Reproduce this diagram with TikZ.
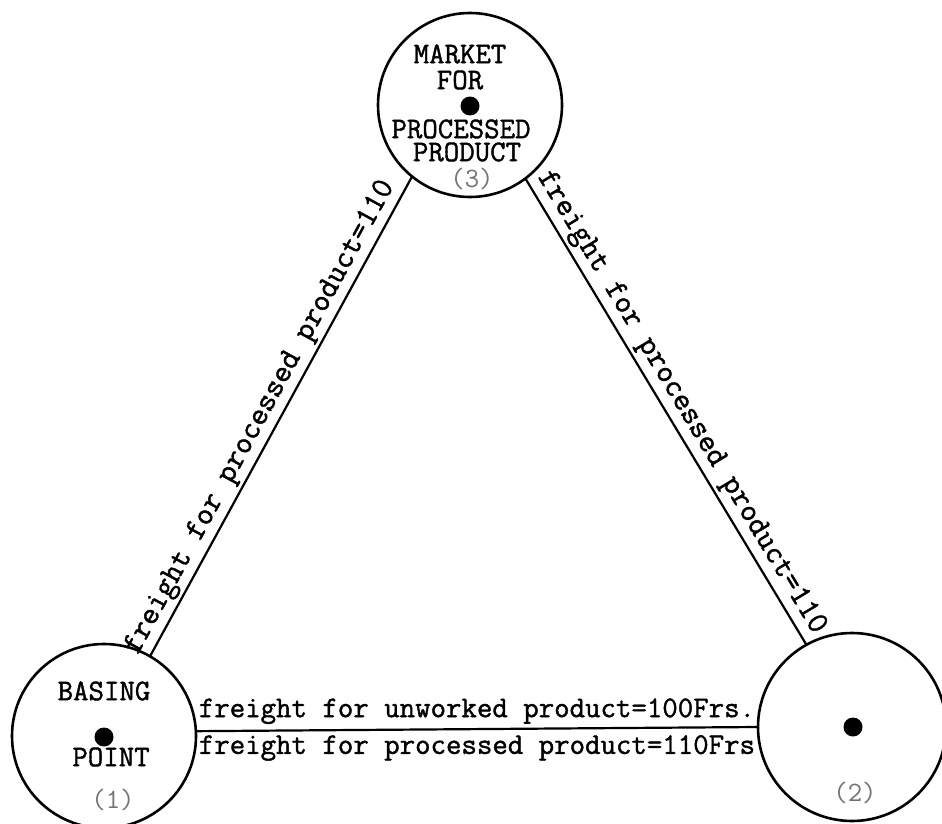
\documentclass[tikz,border=0pt]{standalone}
\usepackage{fontspec}
\newfontfamily\typefont{Latin Modern Mono}[FakeBold=1.3]
\newfontfamily\numfont{Latin Modern Mono}
\begin{document}
\begin{tikzpicture}[x=1pt,y=-1pt,
  station/.style={circle,draw,line width=2.6pt,minimum size=#1,inner sep=0pt,outer sep=0pt},
  typed/.style={font=\typefont\fontsize{30}{30}\selectfont,inner sep=0pt},
  slopetyped/.style={font=\typefont\fontsize{31.5}{31.5}\selectfont,inner sep=0pt},
  numlabel/.style={font=\numfont\fontsize{28}{28}\selectfont,text=black!55,inner sep=0pt},
  dotmark/.style={circle,fill,minimum size=19pt,inner sep=0pt},
  link/.style={line width=2.2pt}]
\useasboundingbox (0,0) rectangle (942,824);
% stations
\node[station=184pt] (c1) at (104,736) {};
\node[station=188pt] (c2) at (852,727) {};
\node[station=184pt] (c3) at (470,105) {};
% centre dots
\node[dotmark] (d1) at (104,737) {};
\node[dotmark] (d2) at (853,727) {};
\node[dotmark] (d3) at (470,106) {};
% texts in circle 3
\node[typed] (t3a) at (460,54) {MARKET};
\node[typed] (t3b) at (460,80) {FOR};
\node[typed] (t3c) at (461,129) {PROCESSED};
\node[typed] (t3d) at (467,152) {PRODUCT};
\node[numlabel] (n3) at (472,179) {(3)};
% texts in circle 1
\node[typed] (t1a) at (104,691) {BASING};
\node[typed] (t1b) at (111,757) {POINT};
\node[numlabel] (n1) at (113,800) {(1)};
% circle 2
\node[numlabel] (n2) at (855,793) {(2)};
% connectors
\draw[link] (c1.60) -- node[slopetyped,sloped,above=3pt,pos=0.48] {freight for processed product=110} (c3.231);
\draw[link] (c3.-53) -- node[slopetyped,sloped,above=3pt] {freight for processed product=110} (c2.119);
\draw[link] (c1.3) -- node[typed,above=4pt] {freight for unworked product=100Frs.}
  node[typed,below=5pt] {freight for processed product=110Frs} (c2.180);
\end{tikzpicture}
\end{document}
